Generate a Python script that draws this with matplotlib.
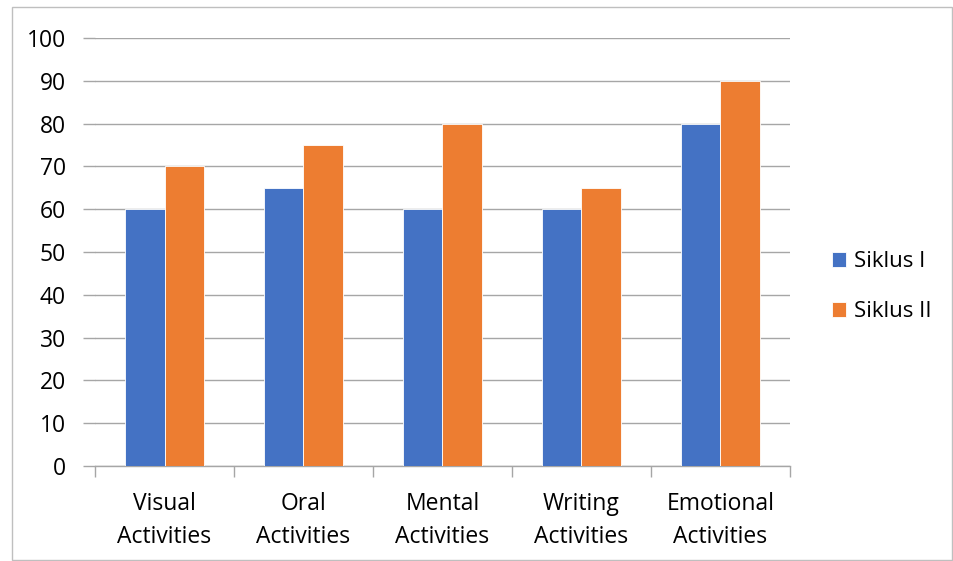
import numpy as np
import matplotlib.pyplot as plt
from matplotlib.patches import Rectangle

categories = ['Visual\nActivities', 'Oral\nActivities', 'Mental\nActivities',
              'Writing\nActivities', 'Emotional\nActivities']
siklus_1 = [60, 65, 60, 60, 80]
siklus_2 = [70, 75, 80, 65, 90]
series_names = ['Siklus I', 'Siklus II']

blue = '#4472c4'
orange = '#ed7d31'
grid_gray = '#a6a6a6'

plt.rcParams['font.family'] = ['Open Sans', 'DejaVu Sans']

fig = plt.figure(figsize=(9.54, 5.61), dpi=100)
ax = fig.add_axes([0.0996, 0.1693, 0.7284, 0.7630])

x = np.arange(len(categories))
w = 0.286
b1 = ax.bar(x - w / 2, siklus_1, w, color=blue, edgecolor='white', linewidth=0.6,
            label=series_names[0], zorder=3)
b2 = ax.bar(x + w / 2, siklus_2, w, color=orange, edgecolor='white', linewidth=0.6,
            label=series_names[1], zorder=3)

ax.set_xlim(-0.5, len(categories) - 0.5)
ax.set_ylim(0, 100)
ax.set_yticks(np.arange(0, 101, 10))
ax.yaxis.grid(True, color=grid_gray, linewidth=1, zorder=0)

for side in ['top', 'right', 'left']:
    ax.spines[side].set_visible(False)
ax.spines['bottom'].set_color(grid_gray)
ax.spines['bottom'].set_linewidth(1)

# category boundaries get the tick marks, labels sit in the middle
ax.set_xticks(np.arange(-0.5, len(categories), 1))
ax.set_xticklabels([])
ax.set_xticks(x, minor=True)
ax.set_xticklabels(categories, minor=True, fontsize=16.5, linespacing=1.45)
ax.tick_params(axis='x', which='major', length=8, color=grid_gray, width=1)
ax.tick_params(axis='x', which='minor', length=0, pad=19)
ax.tick_params(axis='y', length=9, color=grid_gray, width=1, labelsize=16.5, pad=12)

ax.legend(handles=[b1, b2], loc='center left', bbox_to_anchor=(0.851, 0.489),
          bbox_transform=fig.transFigure, frameon=False, fontsize=16,
          handlelength=0.65, handleheight=0.65, handletextpad=0.35, labelspacing=1.3)

fig.patches.append(Rectangle((12 / 954, 1 / 561), 940 / 954, 553 / 561,
                             transform=fig.transFigure, fill=False,
                             edgecolor='#bfbfbf', linewidth=1))

fig.savefig('out.png', dpi=100)
